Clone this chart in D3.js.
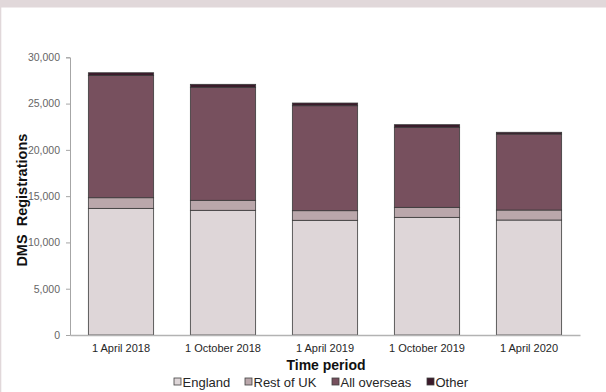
<!DOCTYPE html>
<html>
<head>
<meta charset="utf-8">
<script src="https://cdn.jsdelivr.net/npm/d3@7"></script>
<style>
  html, body { margin: 0; padding: 0; background: #fff; }
  svg { display: block; font-family: "Liberation Sans", Arial, sans-serif; }
</style>
</head>
<body>
<svg id="chart" width="606" height="392"></svg>
<script>
// Registrations by residence, at each snapshot date
const periods = ["1 April 2018", "1 October 2018", "1 April 2019", "1 October 2019", "1 April 2020"];
const england = [13680, 13470, 12390, 12710, 12420];
const restOfUK = [1150, 1080, 1040, 1080, 1080];
const allOverseas = [13210, 12210, 11340, 8650, 8210];
const other = [290, 320, 290, 280, 190];
const seriesNames = ["England", "Rest of UK", "All overseas", "Other"];
const seriesColors = ["#ded6d8", "#baa7ab", "#77505e", "#3b1a2a"];
const yTicks = [0, 5000, 10000, 15000, 20000, 25000, 30000];

const rows = periods.map((p, i) => ({
  period: p,
  "England": england[i],
  "Rest of UK": restOfUK[i],
  "All overseas": allOverseas[i],
  "Other": other[i]
}));

const svg = d3.select("#chart");
const W = 606, H = 392;

// frame: tinted band along the top and a thin strip on the left
svg.append("rect").attr("x", 0).attr("y", 0).attr("width", W).attr("height", 7.5).attr("fill", "#e1d8da");
svg.append("rect").attr("x", 0).attr("y", 0).attr("width", 1.3).attr("height", H).attr("fill", "#e1d8da");

const m = { left: 70, right: 580, top: 57.3, bottom: 335 };

const x = d3.scaleBand().domain(periods).range([m.left, m.right]).paddingInner(0.36).paddingOuter(0.18);
const y = d3.scaleLinear().domain([0, 30000]).range([m.bottom, m.top]);

const stack = d3.stack().keys(seriesNames)(rows);
const color = d3.scaleOrdinal().domain(seriesNames).range(seriesColors);

// stacked bars
svg.append("g").selectAll("g").data(stack).join("g")
  .attr("fill", d => color(d.key))
  .selectAll("rect").data(d => d).join("rect")
  .attr("x", d => x(d.data.period))
  .attr("width", x.bandwidth())
  .attr("y", d => y(d[1]))
  .attr("height", d => y(d[0]) - y(d[1]))
  .attr("stroke", "#3a3a3a")
  .attr("stroke-width", 0.8);

// y axis
const yAxis = svg.append("g").attr("transform", `translate(${m.left},0)`)
  .call(d3.axisLeft(y).tickValues(yTicks).tickSize(4).tickPadding(6).tickFormat(d3.format(",")));
yAxis.select(".domain").attr("stroke", "#a6a6a6");
yAxis.selectAll(".tick line").attr("stroke", "#a6a6a6");
yAxis.selectAll(".tick text").attr("font-size", 10.5).attr("fill", "#666").attr("font-family", "Liberation Sans, Arial, sans-serif");

// x axis baseline and labels
const xAxis = svg.append("g").attr("transform", `translate(0,${m.bottom})`)
  .call(d3.axisBottom(x).tickSize(0).tickPadding(9).tickSizeOuter(0));
xAxis.select(".domain").attr("stroke", "#b3b3b3").attr("stroke-width", 1.3);
xAxis.selectAll(".tick text").attr("font-size", 11).attr("fill", "#262626").attr("font-family", "Liberation Sans, Arial, sans-serif");

// axis titles
svg.append("text")
  .attr("x", (m.left + m.right) / 2 + 1).attr("y", 370)
  .attr("text-anchor", "middle").attr("font-size", 14).attr("font-weight", "bold").attr("fill", "#111")
  .text("Time period");

svg.append("text")
  .attr("transform", `translate(27,${(m.top + m.bottom) / 2 + 4}) rotate(-90)`)
  .attr("text-anchor", "middle").attr("font-size", 14.5).attr("font-weight", "bold").attr("fill", "#111")
  .style("white-space", "pre")
  .text("DMS  Registrations");

// legend
const legendX = [174, 245, 332, 427];
const legend = svg.append("g").selectAll("g").data(seriesNames).join("g")
  .attr("transform", (d, i) => `translate(${legendX[i]},382)`);
legend.append("rect")
  .attr("x", 0).attr("y", -4).attr("width", 7).attr("height", 7)
  .attr("fill", d => color(d)).attr("stroke", "#404040").attr("stroke-width", 0.8);
legend.append("text")
  .attr("x", 8.5).attr("y", 4.5).attr("font-size", 13).attr("fill", "#262626")
  .text(d => d);
</script>
</body>
</html>
